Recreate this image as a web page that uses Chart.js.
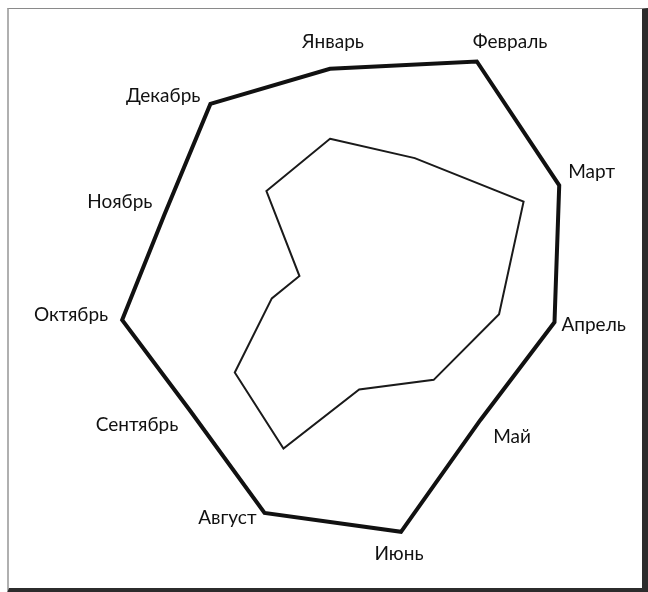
<!DOCTYPE html>
<html lang="ru">
<head>
<meta charset="utf-8">
<title>Радар по месяцам</title>
<script src="https://cdn.jsdelivr.net/npm/chart.js@4/dist/chart.umd.min.js"></script>
<style>
  html, body { margin: 0; padding: 0; background: #fff; }
  #wrap { position: relative; width: 648px; height: 592px; overflow: hidden; }
  #frame {
    position: absolute; left: 7px; top: 8px; width: 633px; height: 579px;
    border-top: 1px solid #8a8a8a; border-left: 2px solid #b0b0b0;
    border-right: 6px solid #2c2c2c; border-bottom: 5px solid #2c2c2c;
  }
  #box { position: absolute; left: 0; top: 0; width: 648px; height: 592px; }
</style>
</head>
<body>
<div id="wrap">
  <div id="frame"></div>
  <div id="box"><canvas id="radarChart"></canvas></div>
</div>
<script>
// Месяцы (июля на графике нет)
const months = ['Январь', 'Февраль', 'Март', 'Апрель', 'Май', 'Июнь',
                'Август', 'Сентябрь', 'Октябрь', 'Ноябрь', 'Декабрь'];

// Внешний контур (толстая линия)
const outerValues = [79, 97, 90, 81, 71, 90, 83, 66, 75, 65, 79];
// Внутренний контур (тонкая линия)
const innerValues = [54, 56, 76, 61, 49, 37, 59, 45, 21, 12, 42];

const scaleMin = 0;
const scaleMax = 100;

// Сдвиг подписи от вершины внешнего контура: [dx, dy, выравнивание]
const labelPlace = [
    [3, -27, 'center'],
    [-4, -20, 'left'],
    [9, -13, 'left'],
    [7, 3, 'left'],
    [13, 17, 'left'],
    [-2, 22, 'center'],
    [-8, 5, 'right'],
    [-12, 14, 'right'],
    [-14, -5, 'right'],
    [-12, -13, 'right'],
    [-10, -8, 'right']
];

// Подписи месяцев рядом с вершинами
const monthLabels = {
    id: 'monthLabels',
    afterDatasetsDraw(chart) {
        const r = chart.scales.r;
        const ctx = chart.ctx;
        ctx.save();
        ctx.font = '19px Lato';
        ctx.fillStyle = '#111';
        ctx.textBaseline = 'middle';
        months.forEach((m, i) => {
            const p = r.getPointPosition(i, r.getDistanceFromCenterForValue(outerValues[i]));
            const [dx, dy, align] = labelPlace[i];
            ctx.textAlign = align;
            ctx.fillText(m, p.x + dx, p.y + dy);
        });
        ctx.restore();
    }
};

document.addEventListener('DOMContentLoaded', function() {
    const ctx = document.getElementById('radarChart').getContext('2d');
    new Chart(ctx, {
        type: 'radar',
        data: {
            labels: months,
            datasets: [{
                label: 'Внешний',
                data: outerValues,
                borderColor: '#111',
                borderWidth: 4,
                borderJoinStyle: 'miter',
                fill: false,
                pointRadius: 0
            }, {
                label: 'Внутренний',
                data: innerValues,
                borderColor: '#1a1a1a',
                borderWidth: 2,
                borderJoinStyle: 'miter',
                fill: false,
                pointRadius: 0
            }]
        },
        options: {
            responsive: true,
            maintainAspectRatio: false,
            animation: false,
            layout: { padding: { left: 50, right: 38, top: 10, bottom: 22 } },
            plugins: {
                legend: { display: false },
                tooltip: { enabled: false }
            },
            scales: {
                r: {
                    min: scaleMin,
                    max: scaleMax,
                    grid: { display: false },
                    angleLines: { display: false },
                    ticks: { display: false },
                    pointLabels: { display: false }
                }
            }
        },
        plugins: [monthLabels]
    });
});
</script>
</body>
</html>
